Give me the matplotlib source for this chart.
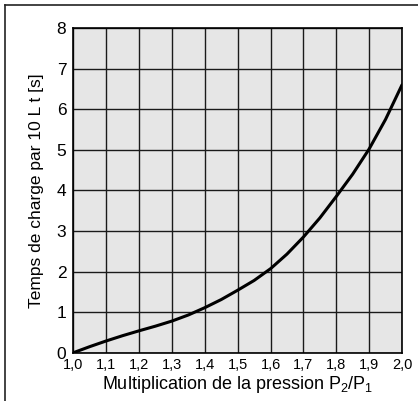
import matplotlib
matplotlib.use("Agg")
import matplotlib.pyplot as plt
from matplotlib.lines import Line2D

plt.rcParams['font.family'] = ['Liberation Sans', 'DejaVu Sans']
plt.rcParams['mathtext.fontset'] = 'custom'
plt.rcParams['mathtext.rm'] = 'Liberation Sans'

# Multiplication de la pression P2/P1
rapport = [1.0, 1.05, 1.1, 1.15, 1.2, 1.25, 1.3, 1.35, 1.4, 1.45, 1.5,
           1.55, 1.6, 1.65, 1.7, 1.75, 1.8, 1.85, 1.9, 1.95, 2.0]
# Temps de charge par 10 L [s]
temps = [0.0, 0.15, 0.29, 0.42, 0.54, 0.655, 0.78, 0.93, 1.11, 1.31, 1.54,
         1.78, 2.07, 2.43, 2.85, 3.32, 3.85, 4.40, 5.02, 5.75, 6.6]

xticks = [1.0, 1.1, 1.2, 1.3, 1.4, 1.5, 1.6, 1.7, 1.8, 1.9, 2.0]
xlabels = ['1,0', '1,1', '1,2', '1,3', '1,4', '1,5', '1,6', '1,7', '1,8', '1,9', '2,0']
yticks = [0, 1, 2, 3, 4, 5, 6, 7, 8]

fig = plt.figure(figsize=(4.18, 4.01), dpi=100)
ax = fig.add_axes([0.1754, 0.1204, 0.7863, 0.8096])
ax.set_facecolor('#e6e6e6')

ax.plot(rapport, temps, color='black', linewidth=2.2, solid_capstyle='round',
        solid_joinstyle='round', zorder=3)

ax.set_xlim(1.0, 2.0)
ax.set_ylim(0, 8)
ax.set_xticks(xticks)
ax.set_xticklabels(xlabels, fontsize=10.5)
ax.set_yticks(yticks)
ax.set_yticklabels([str(v) for v in yticks], fontsize=12.5)
ax.tick_params(length=0)
ax.tick_params(axis='x', pad=4)
ax.tick_params(axis='y', pad=5)

ax.grid(True, color='#1a1a1a', linewidth=1.0)
ax.set_axisbelow(True)
for s in ax.spines.values():
    s.set_linewidth(1.2)
    s.set_color('black')

ax.set_xlabel(r'Multiplication de la pression P$_\mathregular{2}$/P$_\mathregular{1}$',
              fontsize=13, labelpad=1)
ax.set_ylabel('Temps de charge par 10 L t [s]', fontsize=12.5, labelpad=9)

# cadre extérieur (haut et gauche)
fig.add_artist(Line2D([5 / 418, 1], [1 - 5 / 401, 1 - 5 / 401], transform=fig.transFigure,
                      color='#222222', linewidth=1.2))
fig.add_artist(Line2D([5 / 418, 5 / 418], [0, 1 - 5 / 401], transform=fig.transFigure,
                      color='#222222', linewidth=1.2))

fig.savefig('out.png', dpi=100)
